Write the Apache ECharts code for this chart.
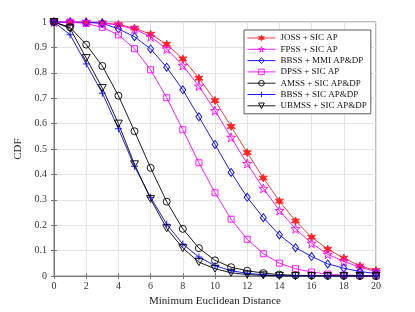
<!DOCTYPE html>
<html><head><meta charset="utf-8">
<script src="https://cdn.jsdelivr.net/npm/echarts@6/dist/echarts.min.js"></script>
<style>html,body{margin:0;padding:0;background:#fff}#c{width:415px;height:312px}</style>
</head><body><div id="c"></div>
<script>
var distances = [0,1,2,3,4,5,6,7,8,9,10,11,12,13,14,15,16,17,18,19,20];
var xTicks = [0,2,4,6,8,10,12,14,16,18,20];
var yTicks = [0,0.1,0.2,0.3,0.4,0.5,0.6,0.7,0.8,0.9,1];
var seriesNames = ['JOSS + SIC AP','FPSS + SIC AP','BBSS + MMI AP&DP','DPSS + SIC AP','AMSS + SIC AP&DP','BBSS + SIC AP&DP','UBMSS + SIC AP&DP'];
var joss  = [1,1,1,0.997,0.99,0.976,0.952,0.912,0.855,0.779,0.691,0.589,0.486,0.386,0.295,0.217,0.153,0.106,0.071,0.040,0.022];
var fpss  = [1,1,1,0.996,0.988,0.972,0.942,0.894,0.829,0.748,0.651,0.546,0.443,0.345,0.258,0.186,0.129,0.086,0.058,0.035,0.018];
var bbssMmi = [1,1,0.998,0.995,0.973,0.942,0.894,0.822,0.733,0.627,0.518,0.408,0.31,0.23,0.162,0.112,0.077,0.048,0.031,0.018,0.01];
var dpss  = [1,1,0.994,0.979,0.949,0.895,0.812,0.702,0.576,0.446,0.328,0.224,0.145,0.088,0.051,0.029,0.016,0.008,0.004,0.002,0.001];
var amss  = [1,0.979,0.911,0.827,0.710,0.570,0.426,0.293,0.186,0.110,0.062,0.035,0.021,0.012,0.006,0.003,0.002,0.001,0.001,0,0];
var bbssSic = [1,0.95,0.835,0.720,0.580,0.432,0.31,0.204,0.126,0.075,0.041,0.021,0.011,0.005,0.002,0.001,0,0,0,0,0];
var ubmss = [1,0.975,0.858,0.740,0.600,0.440,0.303,0.188,0.110,0.055,0.029,0.013,0.006,0.003,0.001,0,0,0,0,0,0];

var hexStar = 'path://M0,-1 L0.225,-0.39 L0.866,-0.5 L0.45,0 L0.866,0.5 L0.225,0.39 L0,1 L-0.225,0.39 L-0.866,0.5 L-0.45,0 L-0.866,-0.5 L-0.225,-0.39 Z';
var pentStar = 'path://M0,-1 L0.2245,-0.309 L0.951,-0.309 L0.363,0.118 L0.588,0.809 L0,0.382 L-0.588,0.809 L-0.363,0.118 L-0.951,-0.309 L-0.2245,-0.309 Z';
var diamond = 'path://M0,-1 L0.7,0 L0,1 L-0.7,0 Z';
var square = 'path://M-1,-1 L1,-1 L1,1 L-1,1 Z';
var plus = 'path://M0,-1 L0,1 M-1,0 L1,0';
var triDown = 'path://M-1,-0.85 L1,-0.85 L0,1 Z';

var FONT = '"Liberation Serif","DejaVu Serif",serif';
var styles = [
  {color: '#ff2020', symbol: hexStar, size: 8, fill: true},
  {color: '#ff00ff', symbol: pentStar, size: 9, fill: false},
  {color: '#0000ff', symbol: diamond, size: [6,8], fill: false},
  {color: '#ff00ff', symbol: square, size: 6, fill: false},
  {color: '#000000', symbol: 'circle', size: 7, fill: false},
  {color: '#0000ff', symbol: plus, size: 7, fill: false},
  {color: '#000000', symbol: triDown, size: [8,7], fill: false}
];
var valuesList = [joss, fpss, bbssMmi, dpss, amss, bbssSic, ubmss];
function itemStyleOf(s) {
  return {color: s.fill ? s.color : 'rgba(0,0,0,0)', borderColor: s.color, borderWidth: 0.9};
}
var series = valuesList.map(function(vals, k) {
  var s = styles[k];
  return {
    name: seriesNames[k], type: 'line', data: distances.map(function(d,i){return [d, vals[i]];}),
    symbol: s.symbol, symbolSize: s.size, showSymbol: true,
    lineStyle: {color: s.color, width: 0.9},
    itemStyle: itemStyleOf(s),
    emphasis: {disabled: true}, animation: false
  };
});
var legendData = seriesNames.map(function(n, k) {
  var s = styles[k];
  return {name: n, itemStyle: itemStyleOf(s), lineStyle: {color: s.color, width: 0.9}};
});
var axisCol = '#777';
var chart = echarts.init(document.getElementById('c'), null, {renderer: 'canvas'});
chart.setOption({
  backgroundColor: '#fff',
  animation: false,
  grid: {left: 54, right: 39, top: 22, bottom: 34, show: true, borderColor: axisCol, borderWidth: 1, backgroundColor: '#fff'},
  legend: {
    orient: 'vertical', left: 244, top: 30, data: legendData,
    itemWidth: 28, itemHeight: 7, itemGap: 1.3, padding: [3, 4, 3, 3],
    backgroundColor: '#fff', borderColor: '#333', borderWidth: 0.8, borderRadius: 0,
    textStyle: {fontFamily: FONT, fontSize: 9, lineHeight: 10, color: '#111'},
    selectedMode: false
  },
  xAxis: [{
    type: 'value', min: 0, max: 20, interval: 2,
    name: 'Minimum Euclidean Distance', nameLocation: 'middle', nameGap: 18,
    nameTextStyle: {fontFamily: FONT, fontSize: 11, color: '#222'},
    axisLine: {show: true, lineStyle: {color: axisCol, width: 1}},
    axisTick: {show: true, inside: true, length: 3, lineStyle: {color: axisCol}},
    axisLabel: {fontFamily: FONT, fontSize: 10, color: '#333', margin: 5},
    splitLine: {show: true, lineStyle: {color: '#e4e4e4', width: 1}}
  }, {
    type: 'value', min: 0, max: 20, interval: 2, position: 'top',
    axisLine: {show: true, lineStyle: {color: axisCol}},
    axisTick: {show: true, inside: true, length: 3, lineStyle: {color: axisCol}},
    axisLabel: {show: false}, splitLine: {show: false}
  }],
  yAxis: [{
    type: 'value', min: 0, max: 1, interval: 0.1,
    name: 'CDF', nameLocation: 'middle', nameGap: 23,
    nameTextStyle: {fontFamily: FONT, fontSize: 11, color: '#222'},
    axisLine: {show: true, lineStyle: {color: axisCol, width: 1}},
    axisTick: {show: true, inside: true, length: 3, lineStyle: {color: axisCol}},
    axisLabel: {fontFamily: FONT, fontSize: 10, color: '#333', margin: 7,
      formatter: function(v){ return (Math.round(v*10)/10).toString(); }},
    splitLine: {show: true, lineStyle: {color: '#e4e4e4', width: 1}}
  }, {
    type: 'value', min: 0, max: 1, interval: 0.1, position: 'right',
    axisLine: {show: true, lineStyle: {color: axisCol}},
    axisTick: {show: true, inside: true, length: 3, lineStyle: {color: axisCol}},
    axisLabel: {show: false}, splitLine: {show: false}
  }],
  series: series
});
</script></body></html>
